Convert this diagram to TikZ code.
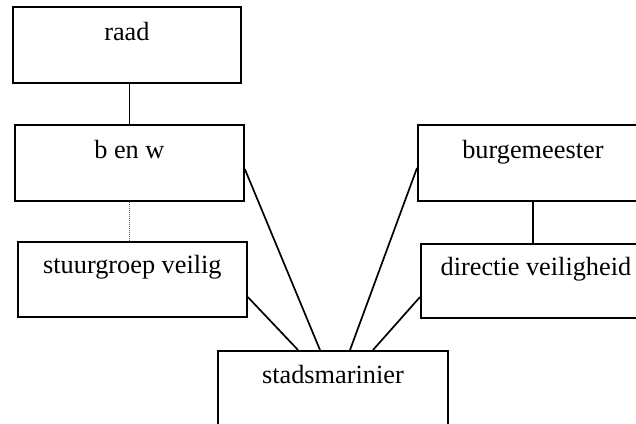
\documentclass[tikz,border=0pt]{standalone}
\usepackage{fontspec}
\setmainfont{Liberation Serif}
\begin{document}
\begin{tikzpicture}[x=1pt,y=-1pt,
  orgbox/.style={draw, line width=1.8pt, inner sep=0pt, anchor=north west,
    minimum width=229pt, text height=34pt, text depth=42pt,
    font=\fontsize{26.3}{30}\selectfont},
  link/.style={line width=1.7pt},
  weaklink/.style={line width=1.6pt, dash pattern=on 1pt off 1pt, black!65}]
\useasboundingbox (0,0) rectangle (636,423);
\node[orgbox, minimum width=228pt] (raad) at (12,6) {raad};
\node[orgbox] (benw) at (14,124) {b en w};
\node[orgbox, text height=32pt, text depth=43pt] (stuur) at (17,241) {stuurgroep veilig};
\node[orgbox, minimum width=230pt, text height=33pt, text depth=70pt] (stad) at (217,350) {stadsmarinier};
\node[orgbox, minimum width=230pt] (burg) at (417,124) {burgemeester};
\node[orgbox, minimum width=230pt, text height=32pt, text depth=42pt] (dir) at (420,243) {directie veiligheid};
\draw[link] (benw.north) -- (benw.north |- raad.south);
\draw[weaklink] (benw.south) -- (benw.south |- stuur.north);
\draw[link] (burg.south -| 533,0) -- (dir.north -| 533,0);
\draw[link] ([yshift=-45pt]benw.north east) -- ([xshift=103pt]stad.north west);
\draw[link] ([yshift=-56pt]stuur.north east) -- ([xshift=81pt]stad.north west);
\draw[link] ([yshift=-44pt]burg.north west) -- ([xshift=133pt]stad.north west);
\draw[link] ([yshift=-54pt]dir.north west) -- ([xshift=156pt]stad.north west);
\end{tikzpicture}
\end{document}
